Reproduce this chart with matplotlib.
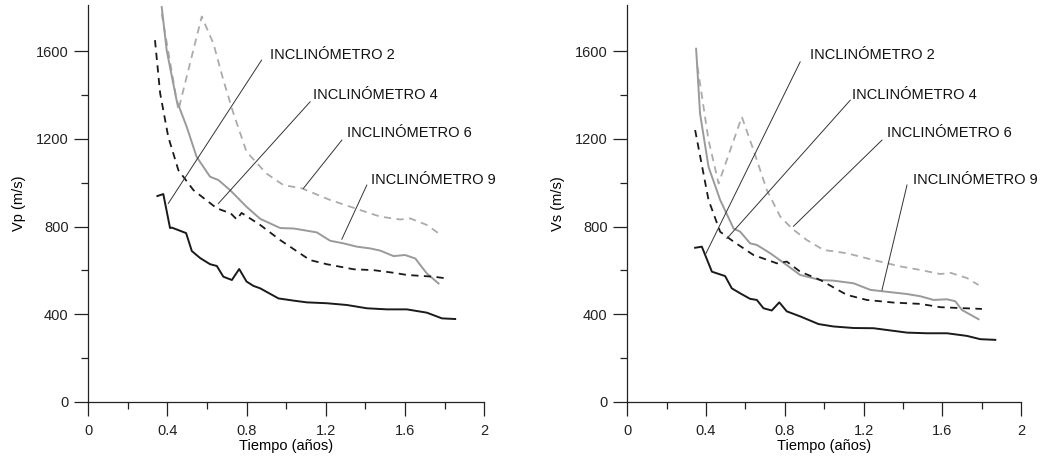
import matplotlib

matplotlib.use("Agg")
import matplotlib.pyplot as plt

plt.rcParams["font.family"] = ["Liberation Sans", "DejaVu Sans"]

# ---- Vp panel (left) ----
vp_t_inc2 = [0.35, 0.38, 0.414, 0.423, 0.495, 0.524, 0.566, 0.616, 0.65, 0.683, 0.726,
             0.763, 0.80, 0.835, 0.869, 0.961, 1.037, 1.104, 1.205, 1.306, 1.407, 1.508,
             1.609, 1.71, 1.786, 1.853]
vp_inc2 = [939, 948, 793, 795, 770, 688, 656, 628, 620, 571, 556,
           606, 549, 529, 518, 472, 462, 454, 450, 442, 427, 422,
           422, 407, 381, 378]

vp_t_inc4 = [0.338, 0.364, 0.405, 0.456, 0.532, 0.65, 0.72, 0.751, 0.775, 0.869, 0.97,
             1.12, 1.205, 1.34, 1.44, 1.542, 1.609, 1.744, 1.803]
vp_inc4 = [1650, 1408, 1209, 1057, 966, 883, 860, 832, 862, 807, 738,
           647, 628, 605, 601, 589, 579, 571, 564]

vp_t_inc6 = [0.372, 0.456, 0.574, 0.633, 0.683, 0.734, 0.80, 0.90, 0.986, 1.079, 1.222,
             1.374, 1.475, 1.576, 1.626, 1.71, 1.769]
vp_inc6 = [1771, 1331, 1758, 1634, 1468, 1316, 1141, 1042, 989, 974, 921,
           875, 845, 832, 837, 807, 769]

vp_t_inc9 = [0.372, 0.397, 0.447, 0.498, 0.548, 0.616, 0.658, 0.717, 0.80, 0.869, 0.97,
             1.037, 1.104, 1.155, 1.222, 1.29, 1.357, 1.424, 1.475, 1.542, 1.6, 1.652,
             1.677, 1.71, 1.769]
vp_inc9 = [1801, 1604, 1376, 1255, 1118, 1027, 1012, 966, 890, 835, 793,
           791, 781, 773, 735, 723, 708, 700, 690, 665, 670, 654,
           624, 586, 540]

# ---- Vs panel (right) ----
vs_t_inc2 = [0.345, 0.379, 0.43, 0.497, 0.531, 0.574, 0.624, 0.658, 0.692, 0.734, 0.772,
             0.81, 0.878, 0.971, 1.047, 1.149, 1.25, 1.318, 1.42, 1.521, 1.623, 1.724,
             1.792, 1.868]
vs_inc2 = [703, 708, 594, 574, 518, 495, 470, 465, 427, 417, 454,
           413, 390, 355, 344, 337, 336, 328, 316, 313, 313, 301,
           286, 283]

vs_t_inc4 = [0.345, 0.413, 0.472, 0.54, 0.641, 0.76, 0.81, 0.878, 0.98, 1.115, 1.216,
             1.352, 1.487, 1.589, 1.69, 1.8]
vs_inc4 = [1240, 921, 776, 731, 670, 632, 640, 594, 556, 488, 465,
           453, 447, 432, 428, 424]

vs_t_inc6 = [0.357, 0.413, 0.464, 0.582, 0.641, 0.709, 0.777, 0.836, 0.912, 0.997, 1.115,
             1.25, 1.386, 1.487, 1.589, 1.64, 1.724, 1.783]
vs_inc6 = [1529, 1194, 996, 1300, 1149, 966, 845, 791, 738, 693, 678,
           647, 618, 602, 583, 589, 565, 533]

vs_t_inc9 = [0.35, 0.37, 0.413, 0.472, 0.54, 0.574, 0.624, 0.658, 0.726, 0.81, 0.878,
             0.98, 1.047, 1.149, 1.234, 1.301, 1.42, 1.487, 1.555, 1.623, 1.665, 1.699,
             1.783]
vs_inc9 = [1611, 1315, 1072, 921, 791, 776, 723, 716, 678, 624, 579,
           556, 553, 541, 511, 504, 492, 482, 465, 468, 459, 419,
           377]

labels = ["INCLINÓMETRO 2", "INCLINÓMETRO 4", "INCLINÓMETRO 6", "INCLINÓMETRO 9"]

# label text anchor (t, v) and leader line start/end for each panel
vp_label_pos = [(0.919, 1582), (1.136, 1399), (1.308, 1226), (1.429, 1012)]
vp_leaders = [((0.876, 1559), (0.405, 905)),
              ((1.121, 1369), (0.658, 905)),
              ((1.281, 1194), (1.087, 974)),
              ((1.407, 989), (1.281, 742))]

vs_label_pos = [(0.929, 1582), (1.142, 1399), (1.32, 1226), (1.452, 1012)]
vs_leaders = [((0.878, 1551), (0.396, 670)),
              ((1.132, 1376), (0.506, 745)),
              ((1.293, 1194), (0.844, 801)),
              ((1.42, 989), (1.293, 510))]

black = "#1a1a1a"
gray = "#9a9a9a"
lightgray = "#ababab"


def draw_panel(ax, series, label_pos, leaders, ylabel):
    (t2, v2), (t4, v4), (t6, v6), (t9, v9) = series
    ax.plot(t6, v6, color=lightgray, lw=1.3, dashes=(4, 3))
    ax.plot(t9, v9, color=gray, lw=1.4)
    ax.plot(t4, v4, color=black, lw=1.3, dashes=(4, 3))
    ax.plot(t2, v2, color=black, lw=1.4)

    for (p0, p1), (tx, ty), lab in zip(leaders, label_pos, labels):
        ax.plot([p0[0], p1[0]], [p0[1], p1[1]], color="#333333", lw=0.7)
        ax.text(tx, ty, lab, fontsize=10.5, va="center", ha="left", color="#111111")

    ax.set_xlim(0, 2)
    ax.set_ylim(0, 1810)
    ax.set_xticks([0, 0.4, 0.8, 1.2, 1.6, 2])
    ax.set_xticklabels(["0", "0.4", "0.8", "1.2", "1.6", "2"])
    ax.set_xticks([0.2, 0.6, 1.0, 1.4, 1.8], minor=True)
    ax.set_yticks([0, 400, 800, 1200, 1600])
    ax.set_yticks([200, 600, 1000, 1400], minor=True)
    ax.tick_params(which="major", direction="out", length=10, width=0.9, color="#222222")
    ax.tick_params(which="minor", direction="out", length=5, width=0.9, color="#222222")
    ax.tick_params(axis="x", which="major", pad=6)
    ax.tick_params(axis="y", which="major", pad=4)
    ax.tick_params(labelsize=10.5, colors="#222222")
    for s in ["top", "right"]:
        ax.spines[s].set_visible(False)
    for s in ["left", "bottom"]:
        ax.spines[s].set_linewidth(0.9)
        ax.spines[s].set_color("#222222")
    ax.set_xlabel("Tiempo (años)", fontsize=10.5, labelpad=1)
    ax.set_ylabel(ylabel, fontsize=10.5, labelpad=7)


fig = plt.figure(figsize=(10.54, 4.63), dpi=100)
ax1 = fig.add_axes([0.0835, 0.132, 0.376, 0.857])
ax2 = fig.add_axes([0.595, 0.132, 0.374, 0.857])

draw_panel(ax1,
           [(vp_t_inc2, vp_inc2), (vp_t_inc4, vp_inc4), (vp_t_inc6, vp_inc6), (vp_t_inc9, vp_inc9)],
           vp_label_pos, vp_leaders, "Vp (m/s)")
draw_panel(ax2,
           [(vs_t_inc2, vs_inc2), (vs_t_inc4, vs_inc4), (vs_t_inc6, vs_inc6), (vs_t_inc9, vs_inc9)],
           vs_label_pos, vs_leaders, "Vs (m/s)")

fig.savefig("out.png", dpi=100)
